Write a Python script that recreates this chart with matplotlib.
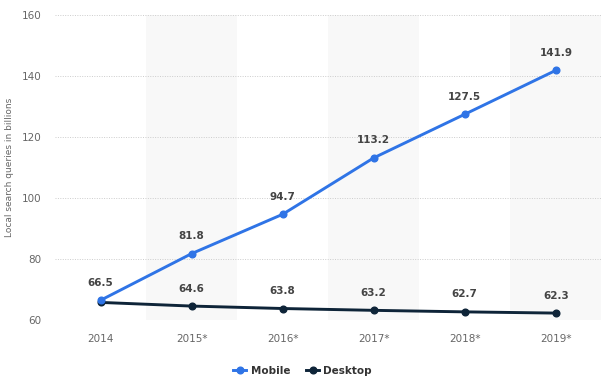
import numpy as np
import matplotlib.pyplot as plt
from matplotlib.lines import Line2D

years = ["2014", "2015*", "2016*", "2017*", "2018*", "2019*"]
mobile = [66.5, 81.8, 94.7, 113.2, 127.5, 141.9]
desktop = [65.8, 64.6, 63.8, 63.2, 62.7, 62.3]
desktop_labels = [None, "64.6", "63.8", "63.2", "62.7", "62.3"]

blue = "#2f74e6"
navy = "#0e2438"

fig = plt.figure(figsize=(6.05, 3.88), dpi=100)
fig.set_facecolor("white")
ax = fig.add_axes([0.091, 0.175, 0.903, 0.786])

x = np.arange(len(years))
for i in x[1::2]:
    ax.axvspan(i - 0.5, i + 0.5, color="#f8f8f8", zorder=0, lw=0)

ax.plot(x, desktop, color=navy, lw=2.1, marker="o", ms=4.8, zorder=3)
ax.plot(x, mobile, color=blue, lw=2.1, marker="o", ms=4.8, zorder=4)

for i, v in enumerate(mobile):
    ax.annotate(f"{v}", (i, v), xytext=(0, 9), textcoords="offset points",
                ha="center", va="bottom", fontsize=7.5, fontweight="bold", color="#444444")
for i, v in enumerate(desktop):
    if desktop_labels[i]:
        ax.annotate(desktop_labels[i], (i, v), xytext=(0, 9), textcoords="offset points",
                    ha="center", va="bottom", fontsize=7.5, fontweight="bold", color="#444444")

ax.set_xlim(-0.5, len(years) - 0.5)
ax.set_ylim(60, 160)
ax.set_yticks([60, 80, 100, 120, 140, 160])
ax.set_xticks(x)
ax.set_xticklabels(years)
ax.grid(axis="y", color="#cccccc", ls=(0, (1, 1.5)), lw=0.7)
ax.set_axisbelow(True)
for s in ax.spines.values():
    s.set_visible(False)
ax.tick_params(length=0, labelsize=7.5, colors="#666666")
ax.tick_params(axis="x", pad=10)
ax.tick_params(axis="y", pad=10)
ax.set_ylabel("Local search queries in billions", fontsize=6.5, color="#666666", labelpad=5)

handles = [
    Line2D([], [], color=blue, lw=2.1, marker="o", ms=4.8),
    Line2D([], [], color=navy, lw=2.1, marker="o", ms=4.8),
]
leg = fig.legend(handles, ["Mobile", "Desktop"], loc="center", bbox_to_anchor=(0.5, 0.045),
                 ncol=2, frameon=False, handlelength=1.3, columnspacing=1.5,
                 prop={"size": 7.5, "weight": "bold"}, handletextpad=0.4)
for t in leg.get_texts():
    t.set_color("#333333")

fig.savefig("out.png", dpi=100)
